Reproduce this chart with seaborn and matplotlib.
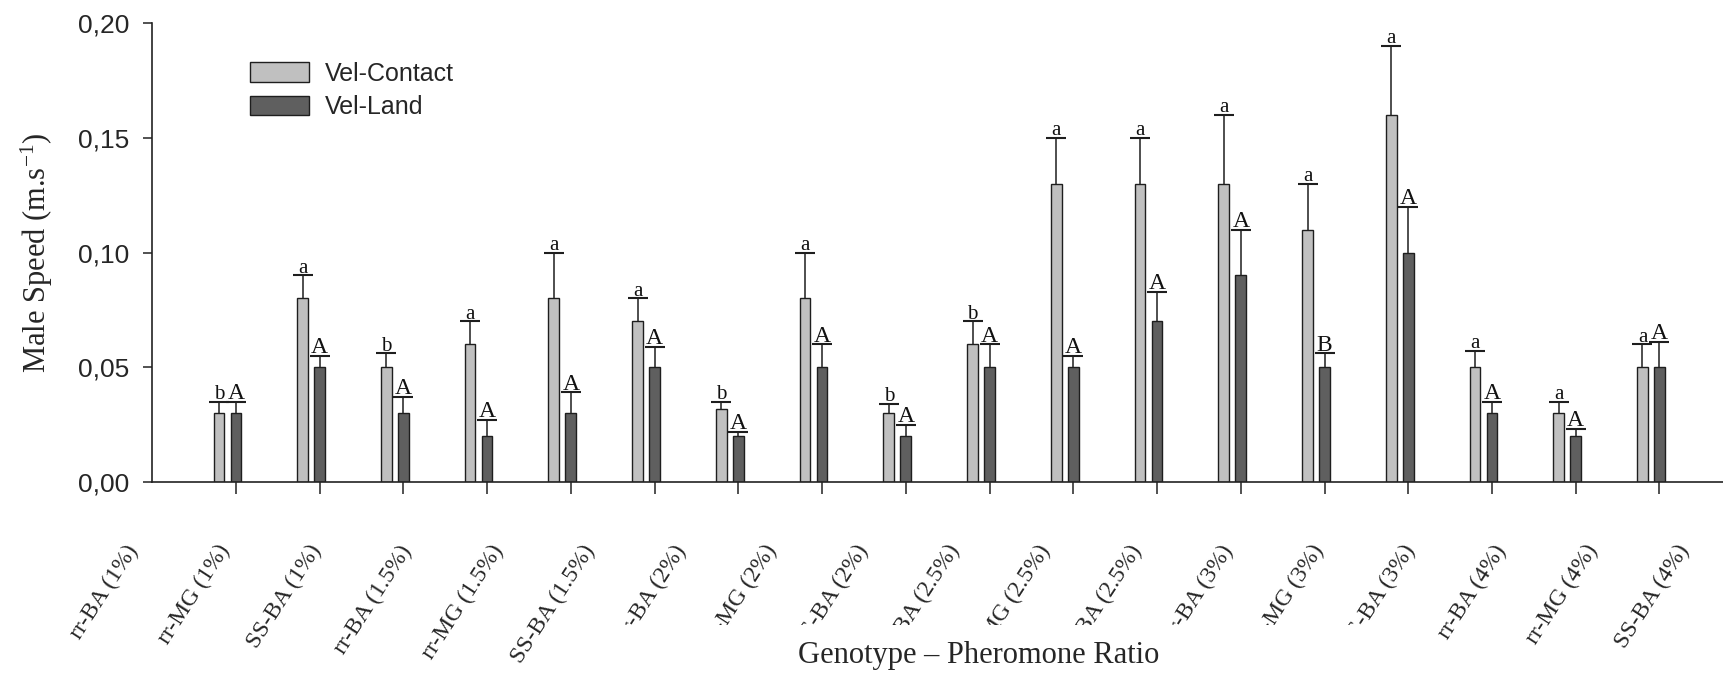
import matplotlib
matplotlib.use('Agg')
import matplotlib.pyplot as plt
import matplotlib.transforms as mtransforms
from matplotlib.patches import Rectangle
from matplotlib.ticker import FuncFormatter
import numpy as np
import pandas as pd
import seaborn as sns

sns.set_theme(style='ticks')
plt.rcParams['font.family'] = ['Liberation Serif', 'DejaVu Serif']
plt.rcParams['mathtext.fontset'] = 'custom'
plt.rcParams['mathtext.rm'] = 'Liberation Serif'
plt.rcParams['mathtext.it'] = 'Liberation Serif:italic'

#%% data
genotypes = ['rr-BA', 'rr-MG', 'SS-BA']
ratios = ['1%', '1.5%', '2%', '2.5%', '3%', '4%']
tick_labels = [f'{g} ({r})' for r in ratios for g in genotypes]
series = ['Vel-Contact', 'Vel-Land']

vel_contact = [0.03, 0.08, 0.05, 0.06, 0.08, 0.07, 0.032, 0.08, 0.03,
               0.06, 0.13, 0.13, 0.13, 0.11, 0.16, 0.05, 0.03, 0.05]
vel_contact_se = [0.005, 0.01, 0.006, 0.01, 0.02, 0.01, 0.003, 0.02, 0.004,
                  0.01, 0.02, 0.02, 0.03, 0.02, 0.03, 0.007, 0.005, 0.01]
vel_land = [0.03, 0.05, 0.03, 0.02, 0.03, 0.05, 0.02, 0.05, 0.02,
            0.05, 0.05, 0.07, 0.09, 0.05, 0.10, 0.03, 0.02, 0.05]
vel_land_se = [0.005, 0.005, 0.007, 0.007, 0.009, 0.009, 0.002, 0.01, 0.005,
               0.01, 0.005, 0.013, 0.02, 0.006, 0.02, 0.005, 0.003, 0.011]
letters_contact = ['b', 'a', 'b', 'a', 'a', 'a', 'b', 'a', 'b',
                   'b', 'a', 'a', 'a', 'a', 'a', 'a', 'a', 'a']
letters_land = ['A', 'A', 'A', 'A', 'A', 'A', 'A', 'A', 'A',
                'A', 'A', 'A', 'A', 'B', 'A', 'A', 'A', 'A']

df = pd.DataFrame({'group': tick_labels * 2,
                   'series': [series[0]] * len(tick_labels) + [series[1]] * len(tick_labels),
                   'speed': vel_contact + vel_land})

#%% plot
W, H = 1723, 675
fig = plt.figure(figsize=(W / 100, H / 100), dpi=100)
ax = fig.add_axes([152 / W, 1 - 482 / H, 1 - 152 / W, (482 - 23) / H])

edge = '#1e1e1e'
sns.barplot(data=df, x='group', y='speed', hue='series', order=tick_labels,
            hue_order=series, palette=['#c0c0c0', '#5f5f5f'], width=0.406,
            gap=0.37, errorbar=None, edgecolor=edge, linewidth=1.0, ax=ax)

# upper error bars + significance letters
for bars, se, lets, fs in zip(ax.containers, [vel_contact_se, vel_land_se],
                              [letters_contact, letters_land], [15, 17]):
    xs = [b.get_x() + b.get_width() / 2 for b in bars]
    tops = [b.get_height() for b in bars]
    eb = ax.errorbar(xs, tops, yerr=[np.zeros(len(se)), se], fmt='none',
                     ecolor=edge, elinewidth=1.1, capsize=7.5, capthick=1.5, zorder=3)
    for cl in eb[1]:
        if np.allclose(cl.get_ydata(), tops):
            cl.remove()
    for x, t, s, l in zip(xs, tops, se, lets):
        ax.annotate(l, (x, t + s), xytext=(0, 2), textcoords='offset points',
                    ha='center', va='baseline', fontsize=fs, color='#111111')

# axes
ax.set_ylim(0, 0.20)
ax.set_yticks([0, 0.05, 0.10, 0.15, 0.20])
ax.yaxis.set_major_formatter(FuncFormatter(lambda v, p: f'{v:.2f}'.replace('.', ',')))
ax.spines[['top', 'right']].set_visible(False)
for s in ['left', 'bottom']:
    ax.spines[s].set_linewidth(1.2)
    ax.spines[s].set_color('#222222')
ax.tick_params(axis='y', direction='out', length=6.5, width=1.1, pad=10,
               labelsize=19, labelfontfamily='Liberation Sans', color='#222222')

ticks = [b.get_x() + b.get_width() / 2 for b in ax.containers[1]]
ax.set_xticks(ticks)
ax.set_xticklabels(tick_labels, rotation=57, ha='right', va='center',
                   rotation_mode='anchor', fontsize=17)
ax.tick_params(axis='x', direction='out', length=8.6, width=1.1, pad=0, color='#222222')
ax.set_xlim(-0.9, 17.86)

ax.set_xlabel('')
ax.set_ylabel('Male Speed (m.s$^{\\mathrm{-1}}$)', fontsize=22)
ax.yaxis.set_label_coords(-0.0618, 0.5)

# rotated labels sit below and spread wider than the ticks
for k, lab in enumerate(ax.get_xticklabels()):
    tick_px = ax.transData.transform((ticks[k], 0))[0]
    dx = (134 + 91.2 * k - tick_px) / fig.dpi
    dy = -(547 - 482 - 12) / fig.dpi
    lab.set_transform(lab.get_transform() +
                      mtransforms.ScaledTranslation(dx, dy, fig.dpi_scale_trans))

# legend
old = ax.get_legend()
handles = old.legend_handles
labels = [t.get_text() for t in old.get_texts()]
ax.legend(handles, labels, loc='upper left',
          bbox_to_anchor=((250 - 152) / 1571, (482 - 62) / 459),
          frameon=False, borderpad=0, borderaxespad=0, handlelength=2.36,
          handleheight=0.84, handletextpad=0.64, labelspacing=0.37,
          prop={'family': 'Liberation Sans', 'size': 18})

# white box behind the axis title (covers part of the tick labels, as in the original)
fig.add_artist(Rectangle((580 / W, 0), (1430 - 580) / W, 50 / H,
                         transform=fig.transFigure, fc='white', ec='none', zorder=5))
fig.text(979 / W, 1 - 656 / H, 'Genotype – Pheromone Ratio', ha='center',
         va='center', fontsize=22, zorder=6)

fig.savefig('out.png', dpi=100)
